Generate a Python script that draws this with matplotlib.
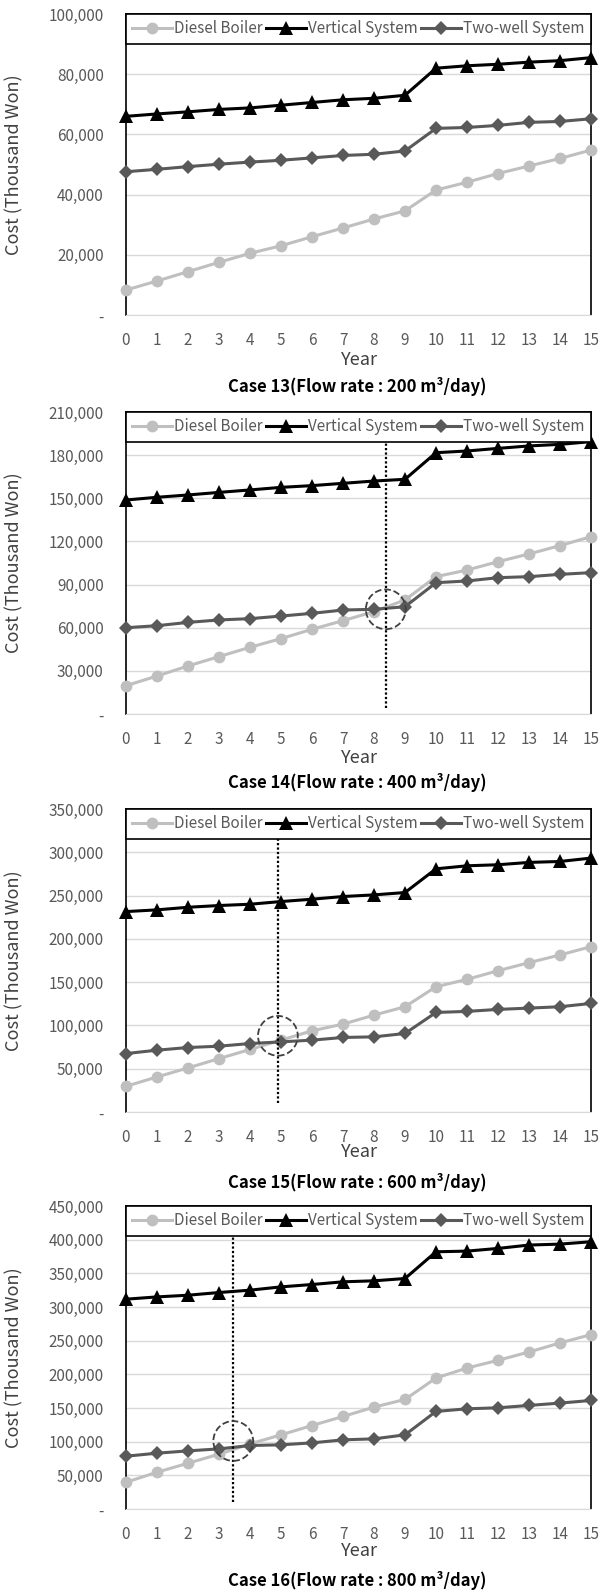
import matplotlib
matplotlib.use("Agg")
import matplotlib.pyplot as plt
from matplotlib.ticker import FuncFormatter, MultipleLocator

plt.rcParams['font.family'] = ['Noto Sans CJK KR', 'DejaVu Sans']

years = list(range(16))
series_names = ["Diesel Boiler", "Vertical System", "Two-well System"]

case13_diesel = [8300, 11300, 14400, 17500, 20500, 23000, 26000, 28900, 31900, 34600,
                 41500, 44100, 47000, 49500, 52000, 54800]
case13_vertical = [66000, 66800, 67500, 68300, 68800, 69700, 70600, 71500, 72000, 73000,
                   82000, 82800, 83300, 84000, 84500, 85500]
case13_twowell = [47600, 48400, 49300, 50100, 50800, 51400, 52200, 53000, 53400, 54500,
                  62000, 62300, 63000, 64000, 64300, 65200]

case14_diesel = [19700, 26400, 33400, 39900, 46400, 52400, 58900, 64900, 71200, 79300,
                 95500, 100100, 105900, 111300, 117100, 123300]
case14_vertical = [148800, 150700, 152300, 154100, 155800, 157600, 158800, 160400, 162000, 163200,
                   181700, 182900, 184700, 186400, 187500, 189400]
case14_twowell = [60000, 61400, 63700, 65400, 66300, 68100, 70000, 72300, 72800, 74600,
                  91300, 92500, 94800, 95500, 97100, 98300]

case15_diesel = [29700, 40500, 50900, 61700, 72200, 83000, 93800, 101500, 111900, 121600,
                 144700, 153200, 163200, 172500, 181400, 191000]
case15_vertical = [231500, 233500, 236500, 238500, 240000, 243100, 245800, 248900, 250800, 253500,
                   280900, 284400, 285600, 288300, 289400, 293300]
case15_twowell = [67500, 71400, 74500, 76000, 79100, 81000, 83000, 86100, 86800, 90700,
                  115000, 116200, 118500, 120000, 121600, 125400]

case16_diesel = [39700, 54600, 68000, 81400, 96700, 110100, 124000, 137400, 151300, 162700,
                 194500, 209400, 220800, 233200, 246600, 259000]
case16_vertical = [311600, 315000, 317500, 321500, 325000, 329900, 333400, 337400, 338900, 342300,
                   382000, 383000, 387000, 392000, 393400, 396900]
case16_twowell = [78400, 82900, 86300, 89300, 94300, 95300, 98200, 102700, 104200, 110100,
                  144900, 148800, 150300, 153800, 157300, 161200]

captions = ["Case 13(Flow rate : 200 m³/day)", "Case 14(Flow rate : 400 m³/day)",
            "Case 15(Flow rate : 600 m³/day)", "Case 16(Flow rate : 800 m³/day)"]
y_max = [100000, 210000, 350000, 450000]
y_step = [20000, 30000, 50000, 50000]
diesel = [case13_diesel, case14_diesel, case15_diesel, case16_diesel]
vertical = [case13_vertical, case14_vertical, case15_vertical, case16_vertical]
twowell = [case13_twowell, case14_twowell, case15_twowell, case16_twowell]

# break-even marks (year, cost) for cases 14-16
marks = [None, (8.38, 72800), (4.9, 88000), (3.46, 101000)]
mark_bottom = [None, 3900, 10400, 10900]

W, H = 613, 1596
# pixel rows of each panel: (top, bottom)
panel_px = [(14, 315), (412, 714), (809, 1112), (1206, 1509)]
year_px = [360, 758, 1152, 1551]
caption_px = [387, 783, 1183, 1581]

tick_grey = '#595959'
styles = [
    dict(color='#BFBFBF', marker='o', ms=8.5),
    dict(color='black', marker='^', ms=10.5),
    dict(color='#595959', marker='D', ms=7.5),
]

fig = plt.figure(figsize=(W / 100, H / 100), dpi=100)

for i in range(4):
    top, bottom = panel_px[i]
    ax = fig.add_axes([126 / W, 1 - bottom / H, 465 / W, (bottom - top) / H])

    for name, vals, st in zip(series_names, [diesel[i], vertical[i], twowell[i]], styles):
        ax.plot(years, vals, label=name, lw=2.2, clip_on=False, zorder=3,
                markeredgewidth=0, **st)

    if marks[i] is not None:
        mx, my = marks[i]
        ax.plot([mx, mx], [mark_bottom[i], y_max[i]], color='black', lw=1.6,
                ls=(0, (1, 1)), zorder=4)
        ax.scatter([mx], [my], s=820, facecolors='none', edgecolors='#404040',
                   linewidths=1.3, linestyles='--', zorder=5)

    ax.set_xlim(0, 15)
    ax.set_ylim(0, y_max[i])
    ax.set_xticks(years)
    ax.yaxis.set_major_locator(MultipleLocator(y_step[i]))
    ax.yaxis.set_major_formatter(FuncFormatter(lambda v, p: '-' if v == 0 else f'{int(v):,}'))
    ax.tick_params(length=0, labelsize=11, labelcolor=tick_grey)
    ax.tick_params(axis='y', pad=16)
    ax.tick_params(axis='x', pad=12)
    ax.grid(axis='y', color='#D9D9D9', lw=1)
    ax.set_axisbelow(True)

    for side in ['left', 'right', 'top']:
        ax.spines[side].set_color('black')
        ax.spines[side].set_linewidth(1.2)
    ax.spines['bottom'].set_color('#D9D9D9')

    ax.set_ylabel("Cost (Thousand Won)", fontsize=13, color='#404040')
    ax.yaxis.set_label_coords(-0.22, 0.5)

    leg = ax.legend(loc='upper left', bbox_to_anchor=(0, 1, 1, 0), mode='expand', ncol=3,
                    borderaxespad=0, fontsize=11, handlelength=2.6, handletextpad=0.15,
                    columnspacing=0.3, borderpad=0.42, fancybox=False, framealpha=1,
                    edgecolor='black', labelcolor=tick_grey)
    leg.get_frame().set_linewidth(1.2)
    leg.set_zorder(10)

    fig.text(359 / W, 1 - year_px[i] / H, "Year", ha='center', va='center',
             fontsize=13, color='#404040')
    fig.text(357 / W, 1 - caption_px[i] / H, captions[i], ha='center', va='center',
             fontsize=12, fontweight='bold', color='black')

fig.savefig("out.png", dpi=100)
